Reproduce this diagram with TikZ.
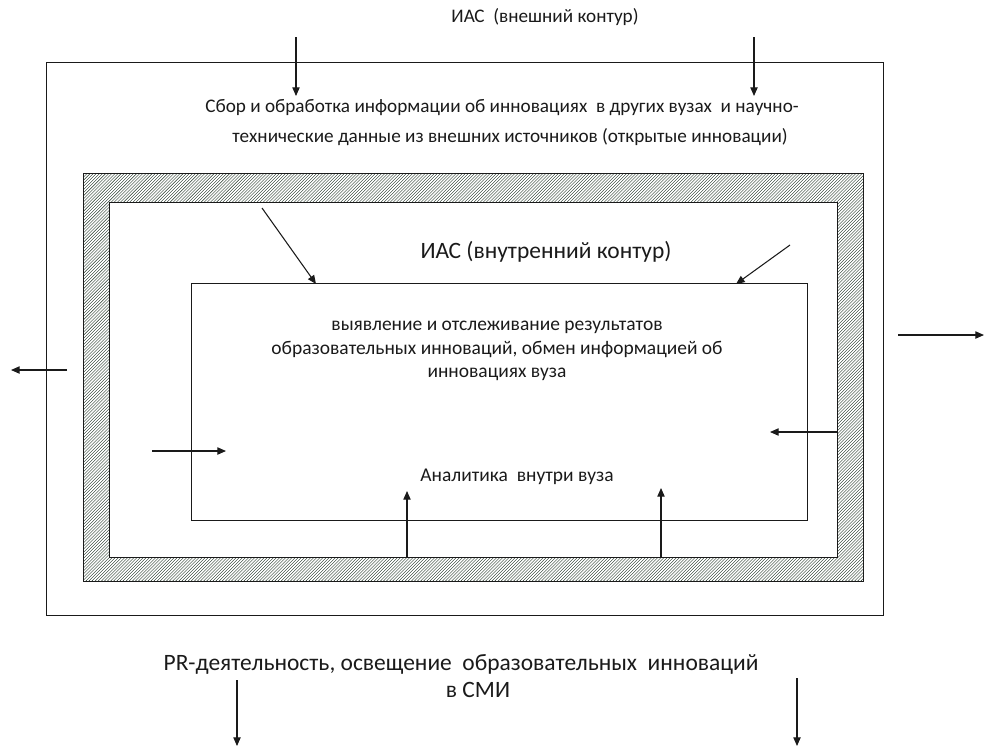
\documentclass[tikz,border=0pt]{standalone}
\usepackage{fontspec}
\setmainfont{Carlito}
\usetikzlibrary{arrows.meta}
\definecolor{ink}{HTML}{1A1A1A}
\definecolor{hatchdark}{HTML}{2A3D2F}
\tikzset{
  frame/.style={draw=ink, line width=0.95pt},
  arr/.style={draw=ink, line width=0.8pt, -{Triangle[length=6.5pt,width=5.5pt]}},
  lbl/.style={inner sep=0pt, text=ink, align=center},
  fsA/.style={font=\fontsize{14.4pt}{21.75pt}\selectfont},
  fsB/.style={font=\fontsize{14.6pt}{17.8pt}\selectfont},
  fsC/.style={font=\fontsize{17.6pt}{19.5pt}\selectfont},
}
\begin{document}
\begin{tikzpicture}[x=0.75pt,y=-0.75pt]
\useasboundingbox (0,0) rectangle (984,751);
% outer contour
\node[frame, minimum width=837*0.75pt, minimum height=553*0.75pt, inner sep=0pt, anchor=north west] (outer) at (46,62) {};
% hatched frame
\begin{scope}[even odd rule]
  \clip (83,173) rectangle (863,581) (109,202) rectangle (837,557);
  \fill[hatchdark] (83,173) rectangle (863,581);
  \foreach \i in {0,3.1,...,1200} \draw[white, line width=1.1pt] (\i-325,581) -- (\i+83,173);
\end{scope}
\node[frame, minimum width=780*0.75pt, minimum height=408*0.75pt, inner sep=0pt, anchor=north west] (hatchout) at (83,173) {};
\node[frame, minimum width=728*0.75pt, minimum height=355*0.75pt, inner sep=0pt, anchor=north west] (hatchin) at (109,202) {};
% inner contour
\node[frame, minimum width=616*0.75pt, minimum height=237*0.75pt, inner sep=0pt, anchor=north west] (inner) at (191,283) {};

% texts
\node[lbl, fsA] (t1) at (545,17) {ИАС\ \ (внешний контур)};
\node[lbl, fsA] (t2a) at (502,108) {Сбор и обработка информации об инновациях\ \ в других вузах\ \ и научно-};
\node[lbl, fsA] (t2b) at (510,137) {технические данные из внешних источников (открытые инновации)};
\node[lbl, fsC] (t3) at (546,252) {ИАС (внутренний контур)};
\node[lbl, fsB] (t4) at (497,351) {выявление и отслеживание результатов\\образовательных инноваций, обмен информацией об\\инновациях вуза};
\node[lbl, fsB] (t5) at (517,477) {Аналитика\ \ внутри вуза};
\node[lbl, fsC] (t6a) at (461,664) {PR-деятельность, освещение\ \ образовательных\ \ инноваций};
\node[lbl, fsC] (t6b) at (478,690) {в СМИ};

% arrow end points
\coordinate (a1s) at (296,37); \coordinate (a1e) at (296,96);
\coordinate (a2s) at (754,37); \coordinate (a2e) at (754,96);
\coordinate (d1s) at (262,208); \coordinate (d1e) at (316,284);
\coordinate (d2s) at (790,245); \coordinate (d2e) at (736,284);
\coordinate (l1s) at (67,370); \coordinate (l1e) at (11,370);
\coordinate (r1s) at (898,335); \coordinate (r1e) at (984,335);
\coordinate (l2s) at (152,451); \coordinate (l2e) at (226,451);
\coordinate (r2s) at (838,432); \coordinate (r2e) at (770,432);
\coordinate (u1s) at (407,557); \coordinate (u1e) at (407,491);
\coordinate (u2s) at (661,557); \coordinate (u2e) at (661,488);
\coordinate (b1s) at (237,680); \coordinate (b1e) at (237,746);
\coordinate (b2s) at (797,678); \coordinate (b2e) at (797,746);

\foreach \p in {a1,a2,d1,d2,l1,r1,l2,r2,u1,u2,b1,b2} \draw[arr] (\p s) -- (\p e);
\end{tikzpicture}
\end{document}
